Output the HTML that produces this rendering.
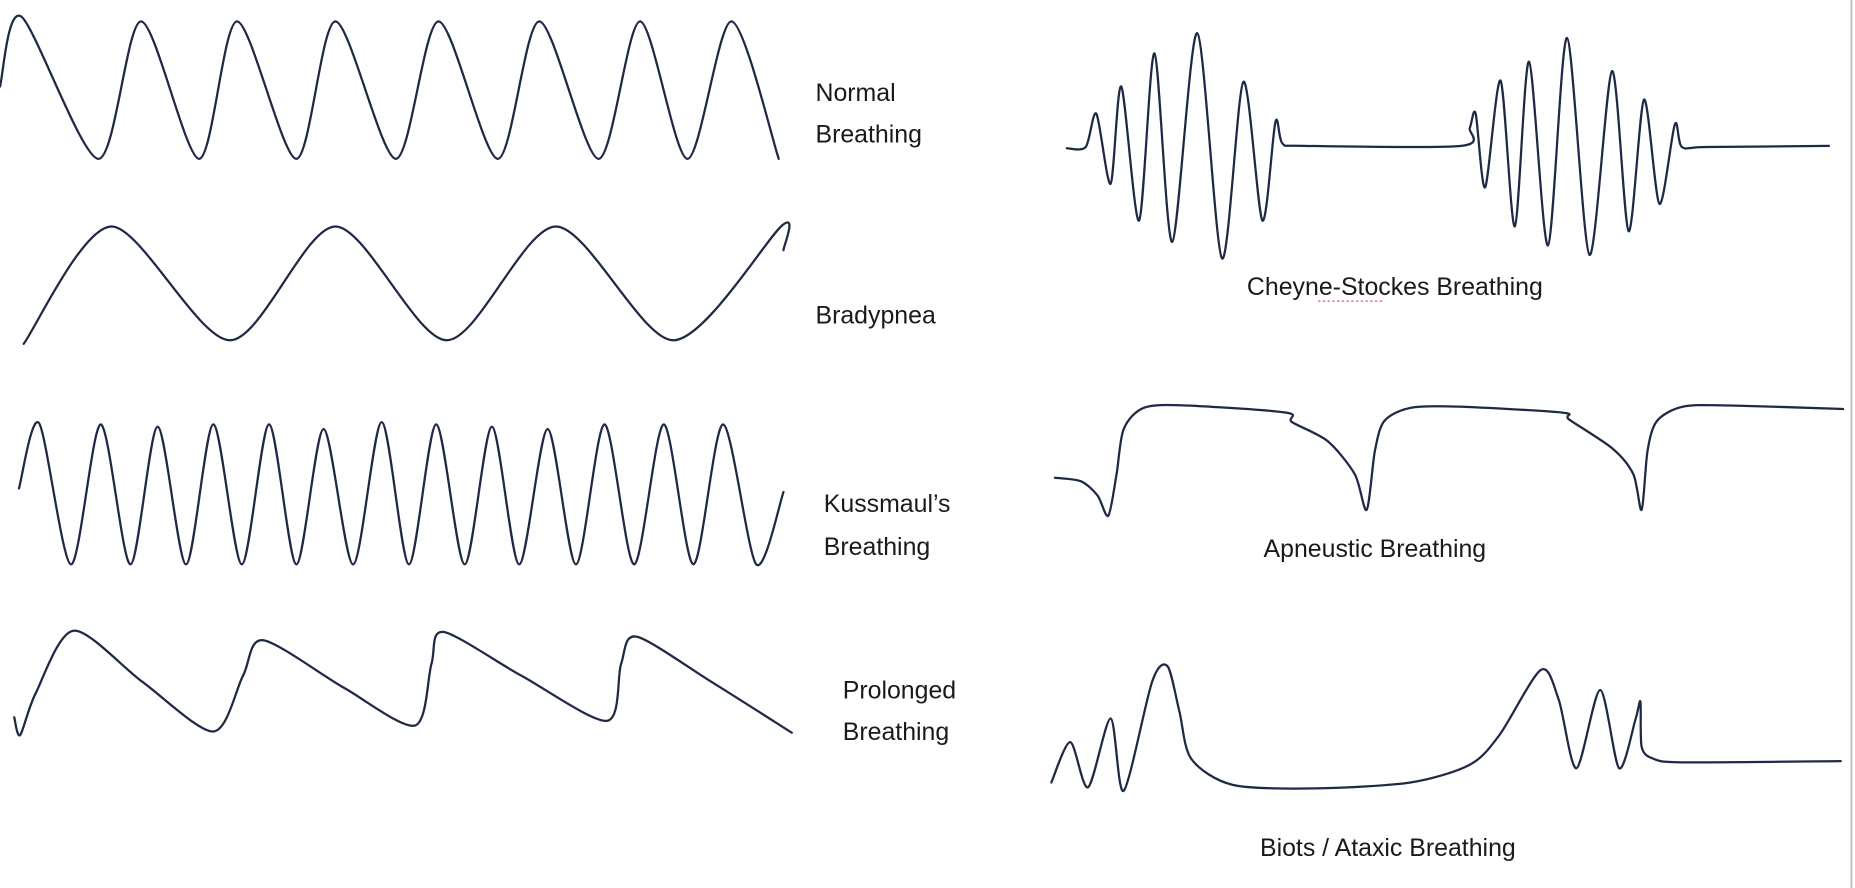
<!DOCTYPE html>
<html><head><meta charset="utf-8">
<style>
html,body{margin:0;padding:0;background:#fff;}
svg{display:block;}
text{font-family:"Liberation Sans",sans-serif;font-size:21px;fill:#1a1a1a;}
</style></head>
<body>
<svg id="s" width="1855" height="888" viewBox="0 0 1565 749" preserveAspectRatio="none" xmlns="http://www.w3.org/2000/svg">
<line x1="1562" y1="0" x2="1562" y2="749" stroke="#bbb" stroke-width="1.5"/>
<g id="g" fill="none" stroke="#1e2a45" stroke-width="1.9" stroke-linejoin="round" stroke-linecap="round"></g>
<text x="688" y="85">Normal</text>
<text x="688" y="120">Breathing</text>
<text x="688" y="273">Bradypnea</text>
<text x="695" y="432">Kussmaul’s</text>
<text x="695" y="468">Breathing</text>
<text x="711" y="589">Prolonged</text>
<text x="711" y="624">Breathing</text>
<text x="1052" y="249">Cheyne-Stockes Breathing</text>
<line x1="1112" y1="254" x2="1168" y2="254" stroke="#e05a5a" stroke-width="1" stroke-dasharray="2,2"/>
<text x="1066" y="470">Apneustic Breathing</text>
<text x="1063" y="722">Biots / Ataxic Breathing</text>
</svg>
<script>
var W=[
[[0,73],[18,14],[83,134],[119,18],[168,134],[200,18],[250,134],[283,18],[334,134],[370,18],[420,134],[455,18],[505,134],[540,18],[580,134],[617,18],[657,134]],
[[20,290],[94,191],[194,287],[283,191],[377,287],[469,191],[568,287],[660,190],[661,211]],
[[16,412],[33,357],[60,476],[85,358],[110,476],[133,360],[157,476],[180,358],[204,476],[227,358],[250,476],[273,362],[298,476],[322,356],[345,476],[368,358],[392,476],[415,360],[438,476],[462,362],[486,476],[510,358],[535,476],[560,358],[585,476],[610,358],[638,476],[661,415]],
[[12,605],[17,620],[30,585],[62,532],[120,575],[180,617],[205,570],[222,540],[290,580],[350,612],[364,560],[374,533],[440,570],[512,608],[524,560],[537,537],[600,575],[668,618]],
[[900,125],[916,124],[925,96],[937,155],[946,73],[961,186],[974,45],[989,204],[1010,28],[1031,218],[1049,69],[1065,186],[1076,103],[1082,121],[1100,123],[1233,123],[1240,108],[1245,96],[1253,158],[1266,68],[1278,191],[1290,52],[1306,207],[1322,32],[1341,215],[1360,60],[1374,195],[1387,84],[1400,172],[1413,105],[1419,124],[1440,124],[1543,123]],
[[890,403],[912,406],[926,418],[935,435],[942,400],[948,362],[965,344],[1000,342],[1085,348],[1090,356],[1120,372],[1143,400],[1153,430],[1160,380],[1168,355],[1190,344],[1230,343],[1318,348],[1324,354],[1360,378],[1378,400],[1385,430],[1390,380],[1398,355],[1420,343],[1460,342],[1555,345]],
[[887,660],[903,626],[918,664],[937,606],[948,667],[972,575],[985,562],[995,600],[1005,640],[1040,662],[1110,665],[1190,660],[1240,645],[1265,620],[1300,565],[1315,590],[1330,648],[1350,582],[1366,648],[1380,606],[1384,592],[1385,630],[1395,640],[1420,643],[1553,642]]
];
var g=document.getElementById('g');
W.forEach(function(p){
 var d='M'+p[0][0]+','+p[0][1];
 for(var i=0;i<p.length-1;i++){
  var p0=p[i-1]||p[i],p1=p[i],p2=p[i+1],p3=p[i+2]||p2,t=0.14;
  var c1=[p1[0]+(p2[0]-p0[0])*t,p1[1]+(p2[1]-p0[1])*t];
  var c2=[p2[0]-(p3[0]-p1[0])*t,p2[1]-(p3[1]-p1[1])*t];
  d+=' C'+c1[0].toFixed(1)+','+c1[1].toFixed(1)+' '+c2[0].toFixed(1)+','+c2[1].toFixed(1)+' '+p2[0]+','+p2[1];
 }
 var e=document.createElementNS('http://www.w3.org/2000/svg','path');
 e.setAttribute('d',d);g.appendChild(e);
});
</script>
</body></html>
